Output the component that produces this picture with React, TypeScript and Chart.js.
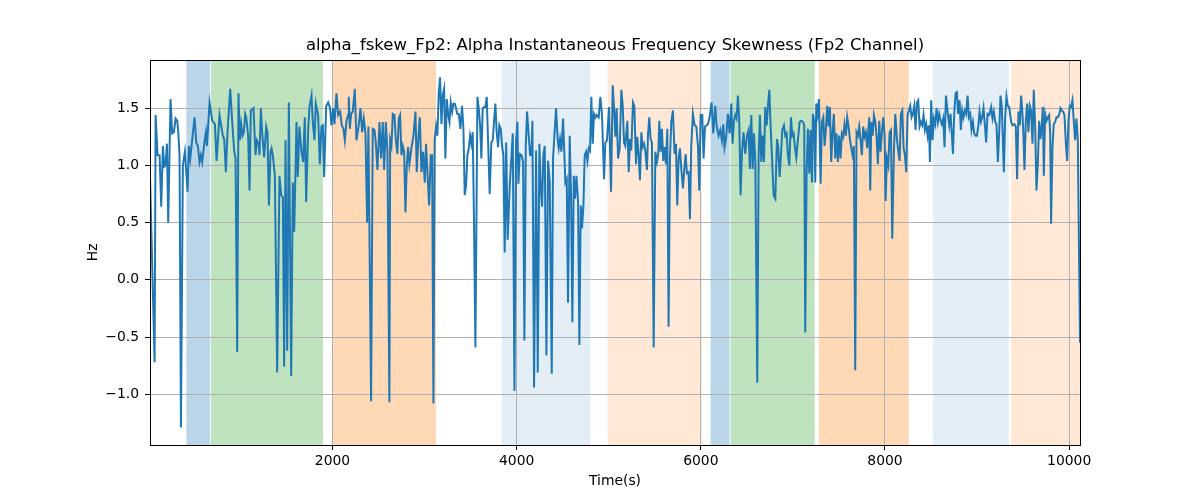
import { useEffect, useRef } from "react";
import { Chart, registerables } from "chart.js";
import type { Plugin } from "chart.js";

Chart.register(...registerables);

// time axis (seconds) and skewness values
const times = [
  18, 68, 79, 100, 122, 140, 158, 173, 187, 202, 216, 241, 259, 278, 296, 314, 325, 339, 354, 375,
  397, 426, 440, 455, 477, 502, 520, 538, 556, 571, 585, 607, 625, 636, 665, 694, 723, 741, 759, 773,
  809, 824, 842, 860, 889, 911, 932, 947, 965, 979, 994, 1008, 1023, 1037, 1052, 1063, 1084, 1099, 1113, 1142,
  1153, 1164, 1178, 1197, 1207, 1222, 1236, 1258, 1280, 1294, 1309, 1327,
  1338, 1352, 1374, 1399, 1424, 1443, 1461, 1475, 1490, 1508, 1526, 1551, 1569, 1584, 1609, 1623, 1641, 1663, 1681, 1699,
  1714, 1736, 1750, 1772, 1786, 1804, 1819, 1844, 1862, 1880, 1895, 1909, 1931, 1953, 1974, 1989, 2007, 2021, 2043, 2061,
  2083, 2101, 2119, 2134, 2152, 2170, 2177, 2188, 2202, 2220, 2242, 2260, 2285, 2304, 2322, 2340, 2358, 2376, 2390, 2419,
  2437, 2456, 2470, 2488, 2510, 2528, 2546, 2561, 2579, 2597, 2618,
  2626, 2640, 2655, 2673, 2687, 2705, 2720, 2734, 2749, 2763, 2778, 2792, 2807, 2821, 2835, 2857, 2879, 2901, 2915, 2933,
  2948, 2966, 2984, 3002, 3016, 3031, 3049, 3067, 3082, 3096, 3110, 3125, 3139, 3154, 3168, 3183, 3197, 3212, 3226, 3241,
  3255, 3270, 3284, 3299, 3313, 3328, 3342, 3356, 3371, 3389, 3407, 3422, 3436, 3451, 3465, 3480, 3494, 3508, 3523, 3537,
  3552, 3574, 3588, 3603, 3617, 3631, 3646, 3660, 3675, 3689, 3707, 3725, 3740, 3754, 3769, 3783, 3798, 3812, 3827, 3841,
  3856, 3870,
  3886, 3902, 3925, 3958, 3976, 3994, 4008, 4019, 4034, 4052, 4070, 4084, 4099, 4113, 4131, 4146, 4160, 4171, 4189, 4211,
  4229, 4247, 4262, 4276, 4290, 4305, 4323, 4341, 4359, 4381, 4395, 4410, 4428, 4446, 4457, 4471, 4486, 4504, 4515, 4529,
  4544, 4558, 4576, 4591, 4605, 4620, 4634, 4649, 4667, 4681, 4696, 4710, 4725, 4739, 4754, 4768, 4783, 4797, 4811, 4826,
  4840, 4855, 4869, 4891, 4909, 4927, 4949, 4963, 4981, 5003, 5025, 5043, 5058, 5072, 5086, 5101, 5119, 5137, 5152, 5166,
  5180, 5202, 5217,
  5231, 5245, 5263, 5278, 5296, 5310, 5325, 5339, 5354, 5368, 5383, 5397, 5415, 5426, 5440, 5455, 5469, 5488, 5506, 5524,
  5538, 5549, 5564, 5578, 5592, 5607, 5621, 5636, 5650, 5665, 5679, 5697, 5715, 5730, 5744, 5759, 5773, 5788, 5806, 5820,
  5835, 5849, 5867, 5882, 5896, 5914, 5933, 5951, 5969, 5983, 5998, 6016, 6030, 6045, 6063, 6077, 6095, 6117, 6135, 6157,
  6171, 6193, 6211, 6229, 6244, 6258, 6276, 6294, 6313, 6331, 6345, 6360, 6374, 6388, 6403, 6417, 6432, 6446, 6464, 6482,
  6501, 6519, 6533,
  6548, 6563, 6577, 6592, 6613, 6628, 6642, 6657, 6671, 6686, 6700, 6715, 6729, 6744, 6758, 6772, 6791, 6809, 6827, 6841,
  6856, 6870, 6885, 6903, 6917, 6932, 6946, 6961, 6979, 6993, 7008, 7022, 7037, 7055, 7073, 7091, 7109, 7123, 7134, 7149,
  7163, 7178, 7192, 7207, 7217, 7232, 7243, 7254, 7268, 7283, 7301, 7315, 7330, 7344, 7359, 7373, 7388, 7402, 7416, 7431,
  7445, 7460, 7474, 7489, 7503, 7518, 7532, 7547, 7561, 7576, 7590, 7605, 7619, 7634, 7648, 7662, 7677, 7691, 7706, 7720,
  7735, 7749, 7764, 7778, 7793, 7807, 7829, 7840,
  7851, 7866, 7880, 7895, 7909, 7923, 7938, 7952, 7967, 7981, 7996, 8007, 8021, 8036, 8050, 8065, 8079, 8097, 8112, 8130,
  8144, 8159, 8173, 8188, 8202, 8217, 8231, 8245, 8260, 8274, 8289, 8303, 8318, 8332, 8347, 8361, 8376, 8390, 8405, 8419,
  8434, 8448, 8463, 8477, 8488, 8502, 8517, 8531, 8546, 8560, 8575, 8589, 8604, 8618, 8633, 8647, 8662, 8680, 8698, 8712,
  8727, 8738, 8752, 8767, 8781, 8795, 8810, 8824, 8839, 8853, 8868, 8882, 8897, 8911, 8926, 8940, 8955, 8969, 8984, 8998,
  9013, 9027, 9042, 9056, 9070, 9085, 9099, 9114, 9132,
  9153, 9168, 9182, 9197, 9211, 9226, 9240, 9255, 9269, 9291, 9305, 9320, 9334, 9349, 9370, 9385, 9406, 9421, 9435, 9450,
  9464, 9479, 9493, 9504, 9515, 9529, 9544, 9558, 9573, 9587, 9602, 9616, 9631, 9645, 9660, 9674, 9689, 9703, 9714, 9725,
  9739, 9754, 9768, 9783, 9794, 9804, 9819, 9833, 9848, 9862, 9877, 9891, 9906, 9920, 9935, 9949, 9964, 9978, 9993, 10007,
  10021, 10036, 10050, 10065, 10079, 10094, 10118,
];

const values = [
  0.91, -0.72, 1.44, 1.09, 1.09, 0.64, 1.17, 0.99, 1.0, 1.19, 0.5, 1.58, 1.28, 1.29, 1.41, 1.39, 1.29, 1.09, -1.29, 1.0,
  1.12, 0.77, 1.17, 1.06, 1.23, 1.42, 1.2, 1.17, 1.03, 1.09, 1.03, 1.19, 1.29, 1.17, 1.55, 1.39, 1.36, 1.04, 1.26, 1.44,
  1.26, 1.23, 0.94, 1.29, 1.67, 1.38, 1.13, 1.06, -0.63, 1.63, 1.22, 1.36, 1.26, 1.29, 1.45, 1.42, 1.26, 0.78, 1.48, 1.5,
  1.29, 1.09, 1.22, 1.19, 1.09, 1.5, 1.29, 1.07, 1.34, 1.29, 0.65, 1.12,
  1.15, 1.09, 0.91, -0.81, 0.91, 0.74, 0.72, -0.76, 1.22, -0.62, 1.55, -0.84, 0.85, 0.42, 1.38, 0.9, 1.34, 1.12, 1.03, 1.42,
  0.68, 1.32, 1.51, 1.61, 1.38, 1.22, 1.54, 1.44, 1.01, 1.34, 1.35, 0.9, 1.52, 1.55, 1.5, 1.35, 1.5, 1.36, 1.63, 1.44,
  1.47, 1.35, 1.32, 1.22, 1.39, 1.44, 1.6, 1.32, 1.45, 1.47, 1.67, 1.22, 1.35, 1.5, 1.29, 1.41, 1.28, 0.5, 1.34, -1.06,
  1.32, 1.31, 1.2, 0.96, 1.38, 1.06, 1.38, 0.96, 1.38, 1.12, -1.07,
  1.22, 1.17, 1.45, 1.44, 1.23, 1.1, 1.41, 1.44, 1.09, 1.17, 1.12, 0.59, 1.01, 1.16, 1.01, 1.15, 1.26, 1.47, 0.94, 1.25,
  1.42, 0.94, 1.12, 0.85, 1.19, 0.94, 0.65, 1.09, 1.09, -1.08, 1.22, 1.34, 1.26, 1.64, 1.77, 1.36, 1.61, 1.67, 1.06, 1.58,
  1.45, 1.38, 1.55, 1.47, 1.54, 1.54, 1.5, 1.45, 1.45, 1.32, 1.52, 1.32, 0.74, 0.83, 1.09, 1.15, 1.26, 1.19, 1.29, 0.5,
  -0.59, 1.6, 1.5, 1.35, 1.06, 1.5, 1.51, 1.51, 1.6, 1.23, 0.75, 1.2, 1.22, 1.38, 1.54, 1.29, 1.16, 1.35, 1.32, 1.17,
  1.09, 0.24,
  1.2, 0.35, 0.82, 1.28, -0.97, 1.22, 1.38, 0.84, 1.1, 1.09, 1.03, -0.53, 1.17, 1.47, 1.26, 1.09, 1.09, 1.39, -0.94, 1.13,
  -0.81, 1.19, 0.8, 0.64, 1.09, 1.17, -0.66, 1.04, 0.85, -0.82, 1.06, 1.26, 1.5, 1.22, 1.15, 1.23, 1.12, 1.41, 1.17, 0.85,
  0.88, -0.2, 1.26, 0.71, -0.37, 0.91, 0.71, 0.91, 0.68, -0.57, 0.65, 0.45, 0.65, 1.09, 1.12, 1.04, 1.15, 1.13, 1.6, 1.19,
  1.45, 1.42, 1.44, 1.42, 1.6, 1.44, 0.88, 1.2, 1.22, 1.51, 0.77, 1.7, 1.5, 1.25, 1.5, 1.06, 1.15, 1.66, 1.52, 1.2,
  1.17, 1.39, 0.94,
  1.23, 1.13, 1.55, 1.52, 1.01, 1.25, 1.09, 0.87, 1.29, 1.16, 1.19, 1.13, 0.96, 1.26, 1.42, 1.23, 1.2, -0.59, 1.12, 1.03,
  1.1, 1.39, 1.12, 1.32, 1.04, 1.16, 1.01, 1.32, -0.41, 1.06, 1.38, 1.48, 1.1, 1.19, 0.65, 1.06, 1.15, 0.97, 0.8, 0.96,
  1.1, 0.93, 0.94, 0.53, 1.17, 1.45, 1.35, 1.34, 1.17, 0.78, 1.44, 1.44, 1.06, 1.34, 1.35, 1.36, 1.42, 1.55, 1.28, 1.52,
  1.35, 1.26, 1.31, 1.22, 1.36, 1.16, 1.25, 1.45, 1.28, 1.54, 1.19, 1.39, 1.44, 1.41, 1.61, 1.41, 0.74, 1.1, 1.29, 1.1,
  1.26, 1.31, 0.97,
  1.44, 0.97, 1.28, 1.03, -0.9, 1.09, 1.44, 1.03, 1.26, 1.03, 1.51, 1.35, 1.52, 1.66, 1.34, 1.09, 0.74, 0.71, 1.23, 1.16,
  0.9, 1.09, 1.31, 1.35, 1.26, 1.28, 1.09, 1.0, 1.42, 1.26, 1.28, 1.16, 1.07, 1.23, 1.38, 1.39, 1.38, 1.35, -0.46, 0.94,
  1.32, 0.93, 1.31, 0.85, 1.45, 1.38, 0.85, 1.54, 1.45, 1.58, 0.84, 1.38, 1.42, 1.17, 1.32, 1.52, 1.34, 1.51, 1.03, 1.29,
  1.45, 1.06, 1.28, 1.03, 1.26, 1.06, 1.28, 1.25, 1.36, 1.26, 1.42, 1.34, 1.23, 1.15, 1.09, 1.17, -0.79, 1.29, 1.26, 1.34,
  1.22, 1.09, 1.34, 1.25, 1.29, 1.15, 1.42, 0.78,
  1.38, 1.26, 1.44, 1.38, 1.25, 1.01, 1.39, 1.12, 1.29, 1.42, 1.26, 0.69, 1.06, 1.0, 1.29, 1.31, 0.36, 1.12, 1.45, 1.23,
  1.13, 1.04, 1.45, 1.48, 1.15, 1.09, 0.94, 1.44, 1.48, 1.52, 1.42, 1.45, 1.52, 1.31, 1.55, 1.57, 1.34, 1.38, 1.35, 1.44,
  1.31, 1.36, 1.26, 1.35, 1.03, 1.57, 1.22, 1.41, 1.36, 1.5, 1.38, 1.45, 1.39, 1.36, 1.41, 1.16, 1.61, 1.47, 1.35, 1.45,
  1.26, 1.1, 1.45, 1.63, 1.64, 1.45, 1.57, 1.31, 1.48, 1.42, 1.48, 1.45, 1.61, 1.42, 1.45, 1.31, 1.38, 1.28, 1.26, 1.26,
  1.34, 1.47, 1.38, 1.42, 1.5, 1.35, 1.2, 1.45, 1.44,
  1.51, 1.41, 1.47, 1.38, 1.36, 1.03, 1.28, 1.61, 1.51, 0.94, 1.42, 1.6, 1.52, 1.51, 1.38, 1.35, 1.36, 1.34, 0.88, 1.47,
  1.35, 1.61, 1.45, 1.26, 0.96, 1.38, 1.54, 1.29, 1.52, 1.48, 1.19, 1.66, 1.34, 0.78, 1.01, 1.39, 1.23, 1.35, 1.51, 0.91,
  1.45, 1.39, 1.42, 1.44, 1.29, 0.49, 1.16, 1.36, 1.38, 1.42, 1.42, 1.44, 1.5, 1.48, 1.47, 1.44, 1.2, 1.04, 1.39, 1.52,
  1.51, 1.57, 1.39, 1.22, 1.41, 1.23, -0.55,
];

const xTicks = [2000, 4000, 6000, 8000, 10000];
const yTicks = [-1.0, -0.5, 0.0, 0.5, 1.0, 1.5];

// shaded stage bands
const spanStarts = [413, 681, 2003, 3837, 4986, 6106, 6323, 7280, 8519, 9367];
const spanEnds = [671, 1896, 3124, 4801, 6011, 6313, 7236, 8258, 9345, 10130];
const spanKinds = ["blue", "green", "orange", "paleBlue", "paleOrange", "blue", "green", "orange", "paleBlue", "paleOrange"];

const spanColors: Record<string, string> = {
  blue: "rgba(31, 119, 180, 0.3)",
  green: "rgba(44, 160, 44, 0.3)",
  orange: "rgba(255, 127, 14, 0.3)",
  paleBlue: "rgba(31, 119, 180, 0.12)",
  paleOrange: "rgba(255, 127, 14, 0.17)",
};

const FONT = "'DejaVu Sans', sans-serif";

const spansPlugin: Plugin<"line"> = {
  id: "spans",
  beforeDraw(chart) {
    const { ctx, chartArea } = chart;
    const xs = chart.scales.x;
    ctx.save();
    ctx.fillStyle = "#ffffff";
    ctx.fillRect(0, 0, chart.width, chart.height);
    ctx.beginPath();
    ctx.rect(chartArea.left, chartArea.top, chartArea.right - chartArea.left, chartArea.bottom - chartArea.top);
    ctx.clip();
    spanStarts.forEach((s, i) => {
      const x0 = xs.getPixelForValue(s);
      const x1 = xs.getPixelForValue(spanEnds[i]);
      ctx.fillStyle = spanColors[spanKinds[i]];
      ctx.fillRect(x0, chartArea.top, x1 - x0, chartArea.bottom - chartArea.top);
    });
    ctx.restore();
  },
  afterDraw(chart) {
    // axes frame on top, like matplotlib spines
    const { ctx, chartArea } = chart;
    ctx.save();
    ctx.strokeStyle = "#000";
    ctx.lineWidth = 1;
    ctx.strokeRect(
      Math.round(chartArea.left) + 0.5,
      Math.round(chartArea.top) + 0.5,
      Math.round(chartArea.right - chartArea.left),
      Math.round(chartArea.bottom - chartArea.top)
    );
    ctx.restore();
  },
};

function SkewChart() {
  const canvasRef = useRef<HTMLCanvasElement | null>(null);

  useEffect(() => {
    if (!canvasRef.current) return;

    const points = times.map((t, i) => ({ x: t, y: values[i] }));

    const chart = new Chart(canvasRef.current, {
      type: "line",
      data: {
        datasets: [
          {
            data: points,
            borderColor: "#1f77b4",
            borderWidth: 2,
            pointRadius: 0,
            tension: 0,
            fill: false,
          },
        ],
      },
      options: {
        responsive: false,
        animation: false,
        devicePixelRatio: 1,
        layout: { padding: { top: 0, right: 120, bottom: 0, left: 0 } },
        plugins: {
          legend: { display: false },
          tooltip: { enabled: false },
          title: {
            display: true,
            text: "alpha_fskew_Fp2: Alpha Instantaneous Frequency Skewness (Fp2 Channel)",
            color: "#000",
            fullSize: false,
            font: { family: FONT, size: 16.5, weight: "normal" },
            padding: { top: 36, bottom: 4 },
          },
        },
        scales: {
          x: {
            type: "linear",
            min: 18,
            max: 10118,
            afterBuildTicks: (scale) => {
              scale.ticks = xTicks.map((v) => ({ value: v }));
            },
            afterFit: (scale) => {
              scale.height = 55;
            },
            grid: {
              color: "#b0b0b0",
              lineWidth: 1,
              tickColor: "#000",
              tickLength: 5,
            },
            border: { display: false },
            ticks: {
              color: "#000",
              padding: 3,
              maxRotation: 0,
              font: { family: FONT, size: 13.9 },
              callback: (v) => String(v),
            },
            title: {
              display: true,
              text: "Time(s)",
              color: "#000",
              font: { family: FONT, size: 13.9 },
              padding: { top: 0, bottom: 10 },
            },
          },
          y: {
            type: "linear",
            min: -1.443,
            max: 1.923,
            afterBuildTicks: (scale) => {
              scale.ticks = yTicks.map((v) => ({ value: v }));
            },
            afterFit: (scale) => {
              scale.width = 150;
            },
            grid: {
              color: "#b0b0b0",
              lineWidth: 1,
              tickColor: "#000",
              tickLength: 5,
            },
            border: { display: false },
            ticks: {
              color: "#000",
              padding: 6,
              font: { family: FONT, size: 13.9 },
              callback: (v) => Number(v).toFixed(1).replace("-", "\u2212"),
            },
            title: {
              display: true,
              text: "Hz",
              color: "#000",
              font: { family: FONT, size: 13.9 },
              padding: { top: 85, bottom: 0 },
            },
          },
        },
      },
      plugins: [spansPlugin],
    });

    return () => {
      chart.destroy();
    };
  }, []);

  return (
    <div style={{ position: "absolute", left: 0, top: 0, width: 1200, height: 500, background: "#fff" }}>
      <canvas ref={canvasRef} width={1200} height={500} />
    </div>
  );
}

export default function App() {
  return <SkewChart />;
}
